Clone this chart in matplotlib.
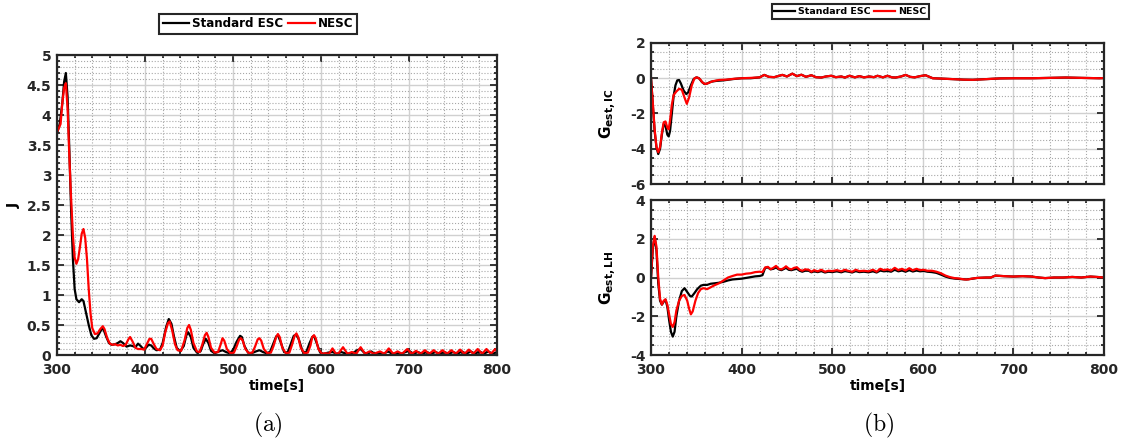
import matplotlib
matplotlib.use("Agg")
import matplotlib.pyplot as plt
from matplotlib.ticker import MultipleLocator, FuncFormatter

plt.rcParams['font.family'] = 'DejaVu Sans'
plt.rcParams['font.weight'] = 'bold'
plt.rcParams['axes.unicode_minus'] = False

# ---- data ----
labels = ["Standard ESC", "NESC"]

# (a) cost J
j_esc_t = [300, 303, 306, 308, 310, 312, 314, 316, 318, 320, 322, 325, 328, 330, 333, 336, 339, 342,
           345, 348, 351, 353, 356, 359, 362, 366, 369, 372, 375, 379, 383, 386, 389, 392, 395, 398,
           401, 404, 407, 410, 413, 417, 420, 424, 427, 430, 433, 436, 440, 444, 447, 449, 452, 455,
           459, 463, 466, 469, 472, 475, 479, 484, 488, 492, 496, 500, 504, 508, 510, 513, 517, 521,
           526, 530, 534, 538, 542, 546, 549, 551, 554, 558, 562, 566, 569, 572, 575, 579, 583, 587,
           590, 592, 595, 599, 603, 608, 613, 618, 623, 627, 632, 637, 641, 645, 649, 653, 657, 661,
           666, 671, 676, 681, 686, 691, 696, 700, 705, 710, 715, 720, 725, 730, 735, 740, 745, 750,
           755, 760, 765, 770, 775, 780, 785, 790, 795, 800]
j_esc = [3.7, 3.85, 4.2, 4.55, 4.7, 4.3, 3.4, 2.4, 1.6, 1.1, 0.93, 0.88, 0.93, 0.9, 0.7, 0.5, 0.33,
         0.27, 0.28, 0.36, 0.44, 0.42, 0.3, 0.2, 0.17, 0.18, 0.2, 0.23, 0.2, 0.14, 0.16, 0.15, 0.13,
         0.19, 0.15, 0.1, 0.12, 0.17, 0.16, 0.11, 0.08, 0.09, 0.2, 0.47, 0.6, 0.52, 0.3, 0.12, 0.06,
         0.15, 0.33, 0.38, 0.3, 0.12, 0.04, 0.06, 0.18, 0.27, 0.2, 0.07, 0.03, 0.06, 0.08, 0.05, 0.03,
         0.08, 0.22, 0.32, 0.3, 0.15, 0.04, 0.03, 0.06, 0.08, 0.05, 0.03, 0.05, 0.2, 0.31, 0.33, 0.22,
         0.05, 0.04, 0.2, 0.32, 0.34, 0.25, 0.06, 0.04, 0.2, 0.3, 0.32, 0.2, 0.04, 0.02, 0.04, 0.05,
         0.02, 0.05, 0.03, 0.02, 0.04, 0.08, 0.1, 0.04, 0.02, 0.06, 0.02, 0.03, 0.02, 0.06, 0.02,
         0.03, 0.02, 0.05, 0.07, 0.02, 0.05, 0.02, 0.05, 0.02, 0.05, 0.02, 0.05, 0.02, 0.05, 0.02,
         0.06, 0.02, 0.06, 0.02, 0.06, 0.02, 0.06, 0.02, 0.05]

j_nesc_t = [300, 302, 304, 306, 308, 310, 312, 314, 316, 318, 320, 322, 324, 326, 328, 330, 332, 334,
            336, 338, 340, 343, 346, 349, 352, 354, 357, 360, 363, 366, 369, 372, 375, 378, 381, 383,
            386, 389, 392, 396, 399, 402, 405, 407, 410, 413, 417, 420, 423, 426, 428, 431, 434, 437,
            441, 445, 448, 450, 452, 455, 459, 462, 465, 468, 470, 472, 475, 479, 483, 486, 488, 490,
            493, 497, 501, 504, 507, 509, 511, 514, 518, 522, 525, 528, 530, 532, 535, 539, 543, 546,
            549, 551, 553, 556, 560, 564, 567, 570, 572, 574, 577, 581, 585, 588, 590, 592, 594, 597,
            601, 605, 609, 613, 617, 620, 625, 630, 635, 640, 645, 650, 655, 660, 667, 672, 677, 682,
            687, 692, 698, 703, 708, 713, 718, 723, 728, 733, 738, 743, 748, 753, 758, 763, 768, 773,
            778, 783, 788, 793, 798, 800]
j_nesc = [3.72, 3.78, 3.85, 4.2, 4.45, 4.53, 4.1, 3.3, 2.6, 2.0, 1.62, 1.52, 1.6, 1.8, 2.02, 2.1, 1.95,
          1.6, 1.1, 0.7, 0.45, 0.35, 0.36, 0.43, 0.48, 0.43, 0.28, 0.19, 0.17, 0.18, 0.16, 0.17, 0.15,
          0.17, 0.26, 0.3, 0.22, 0.12, 0.1, 0.1, 0.09, 0.18, 0.27, 0.27, 0.18, 0.1, 0.08, 0.16, 0.38,
          0.53, 0.56, 0.4, 0.18, 0.08, 0.07, 0.25, 0.45, 0.5, 0.42, 0.2, 0.06, 0.05, 0.17, 0.33, 0.37,
          0.3, 0.12, 0.04, 0.05, 0.18, 0.28, 0.24, 0.1, 0.03, 0.04, 0.14, 0.26, 0.28, 0.24, 0.1, 0.03,
          0.04, 0.14, 0.26, 0.28, 0.24, 0.1, 0.03, 0.04, 0.15, 0.3, 0.35, 0.3, 0.12, 0.03, 0.04, 0.17,
          0.32, 0.36, 0.3, 0.12, 0.03, 0.04, 0.16, 0.3, 0.33, 0.28, 0.1, 0.02, 0.03, 0.02, 0.11, 0.02,
          0.03, 0.13, 0.02, 0.05, 0.02, 0.13, 0.02, 0.06, 0.02, 0.06, 0.02, 0.11, 0.02, 0.06, 0.02,
          0.1, 0.02, 0.07, 0.02, 0.08, 0.02, 0.08, 0.02, 0.08, 0.02, 0.08, 0.02, 0.09, 0.02, 0.09,
          0.02, 0.1, 0.02, 0.1, 0.02, 0.1, 0.06]

# (b) top: G_est,IC
ic_esc_t = [300, 302, 304, 306, 308, 310, 312, 314, 316, 318, 319.5, 321, 323, 325, 327, 329, 331,
            333, 336, 339, 341, 344, 347, 350, 353, 356, 359, 362, 366, 372, 380, 390, 400, 410, 420]
ic_esc = [0, -1.5, -3.0, -3.9, -4.3, -4.0, -3.2, -2.6, -2.7, -3.2, -3.3, -3.0, -2.0, -1.0, -0.4,
          -0.12, -0.1, -0.3, -0.7, -0.9, -0.8, -0.4, -0.05, 0.05, 0.0, -0.2, -0.33, -0.3, -0.2,
          -0.15, -0.12, -0.05, 0.0, 0.0, 0.05]
ic_nesc_t = [300, 302, 304, 306, 308, 310, 312, 314, 316, 318, 319.5, 321, 323, 325, 328, 331, 334,
             337, 339.5, 342, 345, 348, 351, 354, 357, 360, 363, 368, 375, 383, 392, 400, 410, 420]
ic_nesc = [0, -1.4, -2.9, -3.9, -4.2, -3.9, -3.1, -2.5, -2.45, -2.8, -2.9, -2.4, -1.5, -0.95, -0.75,
           -0.6, -0.65, -1.1, -1.45, -1.1, -0.4, 0.0, 0.05, -0.05, -0.25, -0.33, -0.28, -0.17, -0.1,
           -0.08, -0.03, 0.0, 0.02, 0.05]
ic_tail_t = [425, 430, 436, 440, 445, 450, 456, 461, 466, 471, 477, 482, 488, 493, 499, 504, 510, 514,
             519, 525, 530, 535, 541, 546, 550, 556, 561, 566, 570, 576, 581, 586, 591, 597, 603, 611,
             620, 633, 645, 655, 670, 685, 700, 721, 740, 758, 775, 795, 800]
ic_tail = [0.19, 0.08, 0.06, 0.12, 0.19, 0.1, 0.26, 0.12, 0.2, 0.08, 0.17, 0.06, 0.04, 0.1, 0.14, 0.06,
           0.1, 0.04, 0.14, 0.05, 0.12, 0.05, 0.1, 0.06, 0.14, 0.05, 0.14, 0.05, 0.04, 0.1, 0.19, 0.08,
           0.05, 0.12, 0.17, 0.0, -0.02, -0.05, -0.08, -0.09, -0.05, -0.01, 0.0, 0.0, 0.02, 0.04,
           0.02, 0.0, 0.01]

# (b) bottom: G_est,LH
lh_esc_t = [300, 302, 304, 306, 308, 310, 312, 314, 316, 318, 320, 322, 324, 326, 328, 331, 334, 337,
            340, 343, 345, 348, 351, 355, 358, 362, 366, 370, 375, 380, 385, 390, 395, 400, 405, 410,
            415, 420, 423, 426, 429, 432, 435, 438, 441, 444, 447, 449, 452, 455, 458, 461, 464, 467,
            470, 474, 477, 480, 484, 488, 492, 496, 500, 505, 510, 514, 518, 522, 526, 530, 535, 540,
            545, 549, 553, 557, 561, 565, 569, 573, 577, 581, 585, 589, 593, 597, 601, 605, 610, 615,
            620, 625, 630, 636, 642, 648, 655]
lh_esc = [0, 1.5, 2.1, 1.4, -0.3, -1.2, -1.4, -1.25, -1.15, -1.5, -2.2, -2.8, -3.05, -2.8, -2.0, -1.2,
          -0.7, -0.55, -0.75, -0.95, -0.98, -0.8, -0.6, -0.42, -0.38, -0.38, -0.32, -0.3, -0.27, -0.22,
          -0.15, -0.1, -0.08, -0.06, -0.02, 0.02, 0.06, 0.08, 0.12, 0.5, 0.52, 0.42, 0.45, 0.52, 0.42,
          0.38, 0.45, 0.5, 0.4, 0.38, 0.42, 0.45, 0.35, 0.3, 0.35, 0.35, 0.27, 0.32, 0.28, 0.33, 0.26,
          0.3, 0.28, 0.32, 0.27, 0.33, 0.3, 0.26, 0.33, 0.28, 0.3, 0.27, 0.32, 0.26, 0.36, 0.32, 0.34,
          0.3, 0.4, 0.32, 0.36, 0.3, 0.38, 0.31, 0.36, 0.32, 0.34, 0.3, 0.28, 0.24, 0.15, 0.05, -0.02,
          -0.06, -0.08, -0.1, -0.06]
lh_nesc_t = [300, 302, 304, 306, 308, 310, 312, 314, 316, 318, 320, 322, 324, 326, 328, 331, 334, 337,
             340, 342, 344, 346, 349, 352, 355, 358, 362, 366, 370, 375, 380, 385, 390, 395, 400, 405,
             410, 415, 420, 423, 426, 429, 432, 435, 438, 441, 444, 447, 449, 452, 455, 458, 461, 464,
             467, 470, 474, 477, 480, 484, 488, 492, 496, 500, 505, 510, 514, 518, 522, 526, 530, 535,
             540, 545, 549, 553, 557, 561, 565, 569, 573, 577, 581, 585, 589, 593, 597, 601, 605, 610,
             615, 620, 625, 630, 635, 640, 646, 650, 655, 660, 670, 675, 680, 690, 700, 710, 720, 728,
             735, 745, 755, 765, 775, 785, 795, 800]
lh_nesc = [0, 1.6, 2.15, 1.6, 0.0, -1.1, -1.4, -1.2, -1.12, -1.4, -1.9, -2.4, -2.55, -2.3, -1.7, -1.2,
           -0.95, -0.9, -1.2, -1.6, -1.9, -1.75, -1.2, -0.8, -0.6, -0.55, -0.6, -0.5, -0.4, -0.3, -0.15,
           0.0, 0.08, 0.15, 0.15, 0.2, 0.22, 0.28, 0.3, 0.28, 0.52, 0.55, 0.43, 0.5, 0.6, 0.45, 0.42,
           0.5, 0.58, 0.46, 0.42, 0.5, 0.53, 0.4, 0.35, 0.42, 0.4, 0.3, 0.38, 0.32, 0.4, 0.3, 0.35,
           0.33, 0.38, 0.32, 0.4, 0.34, 0.3, 0.4, 0.33, 0.35, 0.32, 0.4, 0.3, 0.45, 0.38, 0.42, 0.36,
           0.5, 0.38, 0.45, 0.36, 0.48, 0.37, 0.45, 0.38, 0.4, 0.35, 0.35, 0.3, 0.22, 0.1, 0.02, -0.03,
           -0.05, -0.1, -0.1, -0.05, -0.02, 0.0, 0.0, 0.1, 0.07, 0.05, 0.07, 0.05, 0.0, -0.03, 0.0,
           0.0, 0.03, 0.0, 0.05, 0.02, 0.0]

xticks = [300, 400, 500, 600, 700, 800]


def style_axes(ax, ymin, ymax, ymaj, ymin_step):
    ax.set_xlim(300, 800)
    ax.set_ylim(ymin, ymax)
    ax.set_xticks(xticks)
    ax.xaxis.set_minor_locator(MultipleLocator(20))
    ax.yaxis.set_major_locator(MultipleLocator(ymaj))
    ax.yaxis.set_minor_locator(MultipleLocator(ymin_step))
    ax.yaxis.set_major_formatter(FuncFormatter(lambda v, p: '%g' % v))
    ax.grid(which='major', color='#d0d0d0', linewidth=1.0, linestyle='-')
    ax.grid(which='minor', color='#a8a8a8', linewidth=0.8, linestyle=':')
    ax.set_axisbelow(True)
    ax.tick_params(which='both', direction='in', top=True, right=True, width=1.3,
                   colors='#262626', labelsize=10)
    ax.tick_params(which='major', length=5)
    ax.tick_params(which='minor', length=2.5)
    ax.tick_params(axis='x', pad=6)
    ax.tick_params(axis='y', pad=4)
    for s in ax.spines.values():
        s.set_linewidth(1.6)
        s.set_color('#262626')
    for lab in ax.get_xticklabels() + ax.get_yticklabels():
        lab.set_fontweight('bold')


def add_legend(ax, xc, yoff, fs):
    leg = ax.legend(loc='lower center', bbox_to_anchor=(xc, yoff), ncol=2, frameon=True,
                    fancybox=False, edgecolor='#262626', framealpha=1, fontsize=fs,
                    handlelength=2.2, handletextpad=0.3, columnspacing=0.4, borderpad=0.3,
                    borderaxespad=0)
    leg.get_frame().set_linewidth(1.5)
    for t in leg.get_texts():
        t.set_fontweight('bold')


fig = plt.figure(figsize=(11.23, 4.45), dpi=100)

ax1 = fig.add_axes([0.0508, 0.2022, 0.3918, 0.6742])
ax1.plot(j_esc_t, j_esc, color='black', lw=1.6, label=labels[0])
ax1.plot(j_nesc_t, j_nesc, color='#ff0000', lw=1.6, label=labels[1])
style_axes(ax1, 0, 5, 0.5, 0.1)
ax1.set_xlabel('time[s]', fontweight='bold', fontsize=10, labelpad=1)
ax1.set_ylabel('J', fontweight='bold', fontsize=10, labelpad=4)
add_legend(ax1, 0.457, 1.07, 8.6)

ax2 = fig.add_axes([0.5797, 0.5865, 0.4034, 0.3169])
ax2.plot(ic_esc_t + ic_tail_t, ic_esc + ic_tail, color='black', lw=1.6, label=labels[0])
ax2.plot(ic_nesc_t + ic_tail_t, ic_nesc + ic_tail, color='#ff0000', lw=1.6, label=labels[1])
style_axes(ax2, -6, 2, 2, 0.5)
ax2.tick_params(labelbottom=False)
ax2.set_ylabel(r'$\mathbf{G_{est,IC}}$', fontsize=11, labelpad=8)
add_legend(ax2, 0.44, 1.17, 6.8)

ax3 = fig.add_axes([0.5797, 0.2022, 0.4034, 0.3483])
ax3.plot(lh_esc_t + lh_nesc_t[lh_nesc_t.index(660):], lh_esc + lh_nesc[lh_nesc_t.index(660):],
         color='black', lw=1.6)
ax3.plot(lh_nesc_t, lh_nesc, color='#ff0000', lw=1.6)
style_axes(ax3, -4, 4, 2, 0.5)
ax3.set_xlabel('time[s]', fontweight='bold', fontsize=10, labelpad=1)
ax3.set_ylabel(r'$\mathbf{G_{est,LH}}$', fontsize=11, labelpad=8)

plt.rcParams['mathtext.fontset'] = 'dejavusans'
fig.text(0.2386, 0.045, r'$\mathrm{(a)}$', ha='center', va='center', fontsize=17,
         math_fontfamily='cm')
fig.text(0.782, 0.045, r'$\mathrm{(b)}$', ha='center', va='center', fontsize=17,
         math_fontfamily='cm')

fig.savefig('out.png', dpi=100)
